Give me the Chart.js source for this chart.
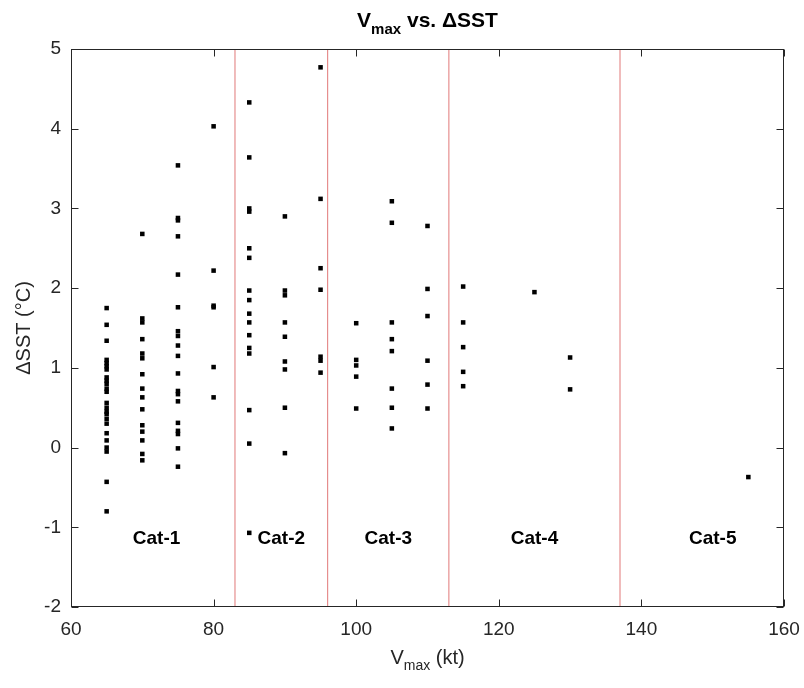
<!DOCTYPE html>
<html lang="en">
<head>
<meta charset="UTF-8" />
<title>Vmax vs. dSST</title>
<script src="https://cdn.jsdelivr.net/npm/chart.js@4.4.1/dist/chart.umd.min.js"></script>
<style>
  body { margin: 0; background: #fff; }
  #wrap { width: 804px; height: 688px; }
</style>
</head>
<body>
<div id="wrap"><canvas id="myChart"></canvas></div>
<script>
// wind speed bins (kt) and the dSST values read at each one
const vmaxBins = [65, 70, 75, 80, 85, 90, 95, 100, 105, 110, 115, 125, 130, 155];
const dsst65 = [1.75, 1.54, 1.34, 1.10, 1.06, 1.02, 0.98, 0.88, 0.84, 0.80, 0.74, 0.70, 0.56, 0.50, 0.45, 0.42, 0.36, 0.30, 0.18, 0.09, 0.00, -0.05, -0.43, -0.80];
const dsst70 = [2.68, 1.62, 1.57, 1.36, 1.18, 1.12, 0.92, 0.74, 0.63, 0.48, 0.28, 0.20, 0.09, -0.08, -0.16];
const dsst75 = [3.54, 2.88, 2.85, 2.65, 2.17, 1.76, 1.46, 1.40, 1.28, 1.15, 0.93, 0.71, 0.67, 0.58, 0.31, 0.21, 0.17, -0.01, -0.24];
const dsst80 = [4.03, 2.22, 1.78, 1.76, 1.01, 0.63];
const dsst85 = [4.33, 3.64, 3.00, 2.96, 2.50, 2.38, 1.97, 1.85, 1.68, 1.57, 1.41, 1.25, 1.18, 0.47, 0.05, -1.07];
const dsst90 = [2.90, 1.97, 1.91, 1.57, 1.39, 1.08, 0.98, 0.50, -0.07];
const dsst95 = [4.77, 3.12, 2.25, 1.98, 1.14, 1.09, 0.94];
const dsst100 = [1.56, 1.10, 1.03, 0.89, 0.49];
const dsst105 = [3.09, 2.82, 1.57, 1.36, 1.21, 0.74, 0.50, 0.24];
const dsst110 = [2.78, 1.99, 1.65, 1.09, 0.79, 0.49];
const dsst115 = [2.02, 1.57, 1.26, 0.95, 0.77];
const dsst125 = [1.95];
const dsst130 = [1.13, 0.73];
const dsst155 = [-0.37];
const dsstByBin = [dsst65, dsst70, dsst75, dsst80, dsst85, dsst90, dsst95, dsst100, dsst105, dsst110, dsst115, dsst125, dsst130, dsst155];

// Saffir-Simpson category boundaries and labels
const catBounds = [83, 96, 113, 137];
const catLabels = ["Cat-1", "Cat-2", "Cat-3", "Cat-4", "Cat-5"];
const catLabelX = [72, 89.5, 104.5, 125, 150];
const catLabelY = -1.15;

const xTicks = [60, 80, 100, 120, 140, 160];
const yTicks = [-2, -1, 0, 1, 2, 3, 4, 5];

const FONT = "'Liberation Sans', Arial, Helvetica, sans-serif";
const AXIS = "#262626";

const points = [];
vmaxBins.forEach((v, i) => dsstByBin[i].forEach((d) => points.push({ x: v, y: d })));

const boundSets = catBounds.map((b) => ({
  type: "line",
  data: [{ x: b, y: yTicks[0] }, { x: b, y: yTicks[yTicks.length - 1] }],
  borderColor: "rgb(225,120,120)",
  borderWidth: 1,
  pointRadius: 0,
  order: 2,
}));

// draws text with a "max" subscript after the first letter
function drawSub(ctx, parts, cx, baseY, size, weight) {
  const big = `${weight} ${size}px ${FONT}`;
  const small = `${weight} ${Math.round(size * 0.72)}px ${FONT}`;
  ctx.font = big; const w1 = ctx.measureText(parts[0]).width;
  ctx.font = small; const w2 = ctx.measureText(parts[1]).width;
  ctx.font = big; const w3 = ctx.measureText(parts[2]).width;
  let x = cx - (w1 + w2 + w3) / 2;
  ctx.textAlign = "left";
  ctx.textBaseline = "alphabetic";
  ctx.font = big; ctx.fillText(parts[0], x, baseY); x += w1;
  ctx.font = small; ctx.fillText(parts[1], x, baseY + size * 0.32); x += w2;
  ctx.font = big; ctx.fillText(parts[2], x, baseY);
}

const framePlugin = {
  id: "frame",
  afterDraw(chart) {
    const { ctx, chartArea: a, scales } = chart;
    const sx = scales.x, sy = scales.y;
    ctx.save();
    ctx.strokeStyle = AXIS;
    ctx.lineWidth = 1;
    const L = Math.round(a.left) + 0.5, R = Math.round(a.right) - 0.5;
    const T = Math.round(a.top) + 0.5, B = Math.round(a.bottom) - 0.5;
    ctx.strokeRect(L, T, R - L, B - T);
    const tl = 7;
    ctx.beginPath();
    xTicks.forEach((v) => {
      const px = Math.round(sx.getPixelForValue(v)) + 0.5;
      ctx.moveTo(px, B); ctx.lineTo(px, B - tl);
      ctx.moveTo(px, T); ctx.lineTo(px, T + tl);
    });
    yTicks.forEach((v) => {
      const py = Math.round(sy.getPixelForValue(v)) + 0.5;
      ctx.moveTo(L, py); ctx.lineTo(L + tl, py);
      ctx.moveTo(R, py); ctx.lineTo(R - tl, py);
    });
    ctx.stroke();

    // category labels
    ctx.fillStyle = "#000";
    ctx.font = `bold 19px ${FONT}`;
    ctx.textAlign = "center";
    ctx.textBaseline = "middle";
    catLabels.forEach((t, i) => {
      ctx.fillText(t, sx.getPixelForValue(catLabelX[i]), sy.getPixelForValue(catLabelY));
    });

    // title and axis titles
    const cx = (a.left + a.right) / 2;
    ctx.fillStyle = "#000";
    drawSub(ctx, ["V", "max", " vs. \u0394SST"], cx, 27, 21, "bold");
    ctx.fillStyle = AXIS;
    drawSub(ctx, ["V", "max", " (kt)"], cx, 664, 20, "normal");

    ctx.translate(24, (a.top + a.bottom) / 2);
    ctx.rotate(-Math.PI / 2);
    ctx.font = `20px ${FONT}`;
    ctx.textAlign = "center";
    ctx.textBaseline = "middle";
    ctx.fillText("\u0394SST (\u00B0C)", 0, 0);
    ctx.restore();
  },
};

const ctx = document.getElementById("myChart").getContext("2d");
new Chart(ctx, {
  type: "scatter",
  data: {
    datasets: [
      {
        label: "dSST",
        data: points,
        pointStyle: "rect",
        pointRadius: 3.2,
        borderWidth: 0,
        backgroundColor: "#000",
        order: 1,
      },
      ...boundSets,
    ],
  },
  options: {
    responsive: true,
    maintainAspectRatio: false,
    animation: false,
    layout: { padding: { top: 49, right: 20, left: 0, bottom: 0 } },
    plugins: { legend: { display: false }, tooltip: { enabled: false }, title: { display: false } },
    scales: {
      x: {
        type: "linear",
        min: 60,
        max: 160,
        afterFit: (s) => { s.height = 81; s.paddingLeft = 0; s.paddingRight = 0; },
        afterBuildTicks: (s) => { s.ticks = xTicks.map((v) => ({ value: v })); },
        grid: { display: false, drawTicks: false },
        border: { display: false },
        ticks: { color: AXIS, padding: 11, font: { family: FONT, size: 19 } },
      },
      y: {
        type: "linear",
        min: -2,
        max: 5,
        afterFit: (s) => { s.width = 71; s.paddingTop = 0; s.paddingBottom = 0; },
        afterBuildTicks: (s) => { s.ticks = yTicks.map((v) => ({ value: v })); },
        grid: { display: false, drawTicks: false },
        border: { display: false },
        ticks: { color: AXIS, padding: 10, font: { family: FONT, size: 19 } },
      },
    },
  },
  plugins: [framePlugin],
});
</script>
</body>
</html>
